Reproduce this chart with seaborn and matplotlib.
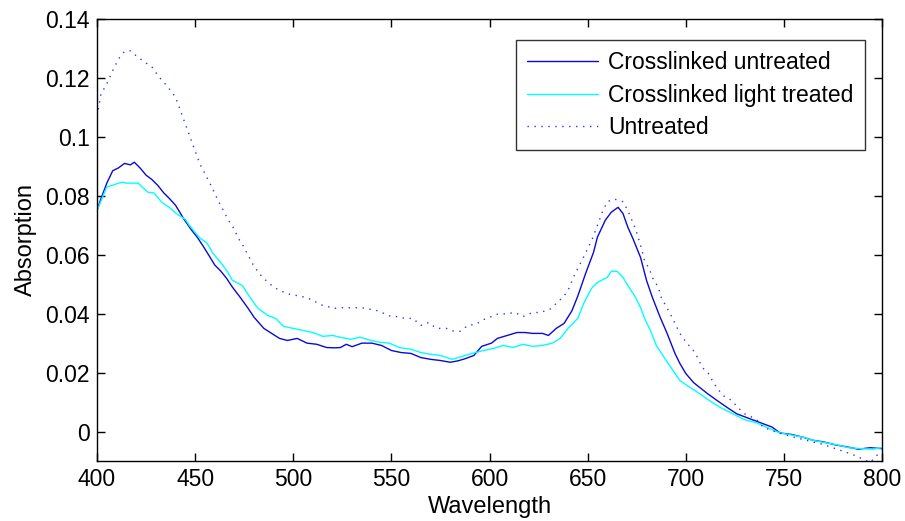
import matplotlib
matplotlib.use("Agg")
import matplotlib.pyplot as plt
import seaborn as sns

# Crosslinked untreated
wl_cross = [400, 402, 405, 408, 411, 414, 417, 419, 422, 425, 428, 431, 434, 437, 440,
            444, 448, 451, 454, 457, 460, 463, 466, 469, 473, 477, 480, 485, 489, 493,
            497, 502, 507, 512, 517, 521, 524, 527, 530, 535, 540, 545, 550, 555, 560,
            565, 570, 575, 580, 584, 588, 592, 596, 601, 604, 609, 614, 618, 622, 627,
            630, 634, 638, 642, 645, 649, 653, 655, 659, 662, 665.5, 668, 670.5, 673, 677,
            680, 683, 687, 690.5, 694.5, 697, 700, 704, 707, 711, 716, 721, 726, 732, 738,
            744, 748, 754, 760, 765, 770, 776, 782, 788, 794, 800]
abs_cross = [0.0751, 0.079, 0.0843, 0.0885, 0.0895, 0.091, 0.0905, 0.0914, 0.0894, 0.087,
             0.0855, 0.0835, 0.081, 0.079, 0.0768, 0.0724, 0.0685, 0.066, 0.063, 0.0598,
             0.0565, 0.0545, 0.052, 0.049, 0.0455, 0.0418, 0.0388, 0.035, 0.0333, 0.0316,
             0.0309, 0.0316, 0.030, 0.0296, 0.0285, 0.0284, 0.0285, 0.0296, 0.0288, 0.030,
             0.030, 0.0292, 0.0275, 0.0268, 0.0265, 0.0251, 0.0245, 0.0241, 0.0235, 0.024,
             0.0248, 0.0258, 0.0289, 0.030, 0.0316, 0.0326, 0.0336, 0.0336, 0.0333, 0.0333,
             0.0326, 0.035, 0.0367, 0.041, 0.046, 0.0537, 0.0608, 0.066, 0.0717, 0.0744,
             0.0761, 0.074, 0.0693, 0.0656, 0.059, 0.0513, 0.0455, 0.0387, 0.0333, 0.0265,
             0.0231, 0.0197, 0.0166, 0.015, 0.0129, 0.0105, 0.0082, 0.006, 0.0045, 0.003,
             0.0015, -0.0005, -0.001, -0.002, -0.003, -0.0035, -0.0045, -0.0052, -0.006,
             -0.0055, -0.0058]

# Crosslinked light treated
wl_light = [400, 402.5, 405, 408, 411, 413, 415, 421, 423, 426, 429, 433, 437, 441, 445,
            447, 450, 452.5, 456, 459, 463, 466, 469, 474, 478, 482, 487, 491, 495, 500,
            505, 510, 515, 520, 524, 529, 534, 539, 544, 549, 554, 560, 565, 570, 575,
            581, 586, 591, 597, 602, 607, 612, 617, 622, 627, 632, 636, 640, 645, 648,
            652, 655, 660, 662, 665, 668, 671, 674, 677, 679, 682, 685, 689, 693.5, 697,
            702, 707, 712, 717.5, 724, 730, 736, 742, 748, 754, 760, 765, 771, 777, 783,
            789, 795, 800]
abs_light = [0.075, 0.079, 0.083, 0.0836, 0.0843, 0.0846, 0.0843, 0.0843, 0.083, 0.0812,
             0.081, 0.0778, 0.076, 0.0737, 0.072, 0.070, 0.0676, 0.0656, 0.064, 0.0605,
             0.0574, 0.0547, 0.0513, 0.0496, 0.0455, 0.0418, 0.0394, 0.0384, 0.0357, 0.035,
             0.0343, 0.0336, 0.0323, 0.0326, 0.032, 0.0313, 0.032, 0.031, 0.0303, 0.030,
             0.0285, 0.0279, 0.0268, 0.0262, 0.0258, 0.0245, 0.0255, 0.0265, 0.0275, 0.0282,
             0.0292, 0.0285, 0.0296, 0.0289, 0.0292, 0.030, 0.0316, 0.035, 0.0384, 0.0435,
             0.0486, 0.0506, 0.0523, 0.0544, 0.0544, 0.0523, 0.049, 0.046, 0.042, 0.0384,
             0.0343, 0.0292, 0.0251, 0.0207, 0.0173, 0.015, 0.0129, 0.0105, 0.0082, 0.006,
             0.004, 0.003, 0.0012, -0.0005, -0.0012, -0.002, -0.003, -0.0038, -0.0045,
             -0.0055, -0.0058, -0.006, -0.0055]

# Untreated
wl_untr = [400, 402, 405, 408, 411, 414, 417, 420, 424, 428, 432, 436, 440, 443, 446,
           449, 452.5, 457.5, 462, 467, 470, 472, 474.5, 477, 479.5, 482.5, 486.5, 490, 494,
           498, 503, 506.5, 510, 514, 517, 521, 525, 530, 535, 539, 543, 550, 553, 557,
           561, 565, 569, 573, 578, 582, 585, 589, 593, 597, 601, 604, 609, 613, 617,
           622, 626, 631, 634.5, 638, 640.5, 642.5, 645, 647.5, 650, 652.5, 655, 657.5, 660,
           663.5, 668, 670.5, 674.5, 677.5, 679, 681.5, 683.5, 686, 687.5, 690, 692.5, 697,
           700.5, 703.5, 706, 708.5, 712, 714, 716.5, 719, 723.5, 726.5, 730, 734, 737, 739.5,
           746.5, 755.5, 770, 785, 794, 797.5, 800]
abs_untr = [0.107, 0.1145, 0.118, 0.1225, 0.1265, 0.129, 0.1292, 0.1275, 0.1255, 0.1237,
            0.120, 0.117, 0.1135, 0.108, 0.1025, 0.097, 0.0907, 0.0843, 0.078, 0.0717,
            0.0686, 0.0656, 0.063, 0.0598, 0.0567, 0.0537, 0.051, 0.049, 0.0476, 0.0466,
            0.046, 0.0455, 0.0445, 0.043, 0.0425, 0.0418, 0.042, 0.042, 0.042, 0.0415,
            0.041, 0.039, 0.039, 0.0384, 0.0384, 0.036, 0.037, 0.035, 0.035, 0.034,
            0.034, 0.036, 0.0364, 0.038, 0.039, 0.0398, 0.040, 0.0404, 0.039, 0.0404,
            0.0404, 0.0416, 0.0438, 0.046, 0.0486, 0.052, 0.0554, 0.0586, 0.062, 0.0656,
            0.070, 0.0745, 0.078, 0.0789, 0.078, 0.075, 0.0686, 0.062, 0.058, 0.055,
            0.0516, 0.049, 0.0455, 0.0425, 0.0394, 0.0333, 0.030, 0.0279, 0.0251, 0.0217,
            0.0194, 0.0166, 0.0143, 0.0122, 0.0105, 0.0082, 0.006, 0.0048, 0.0035, 0.0014,
            -0.0003, -0.002, -0.0044, -0.0078, -0.0105, -0.008, -0.0085]

x_ticks = [400, 450, 500, 550, 600, 650, 700, 750, 800]
y_ticks = [0, 0.02, 0.04, 0.06, 0.08, 0.1, 0.12, 0.14]
y_tick_labels = ["0", "0.02", "0.04", "0.06", "0.08", "0.1", "0.12", "0.14"]

sns.set_style("white")
plt.rcParams["font.family"] = ["Liberation Sans", "DejaVu Sans"]
plt.rcParams.update({
    "text.color": "black",
    "axes.labelcolor": "black",
    "xtick.color": "black",
    "ytick.color": "black",
    "xtick.direction": "in",
    "ytick.direction": "in",
    "xtick.bottom": True,
    "xtick.top": True,
    "ytick.left": True,
    "ytick.right": True,
    "xtick.major.size": 6,
    "ytick.major.size": 6,
    "xtick.major.width": 1.0,
    "ytick.major.width": 1.0,
})

fig = plt.figure(figsize=(9.05, 5.21), dpi=100)
ax = fig.add_axes([0.1072, 0.1152, 0.8674, 0.8483])

sns.lineplot(x=wl_cross, y=abs_cross, ax=ax, color="#0a0ad2", linewidth=1.0,
             estimator=None, sort=False, label="Crosslinked untreated")
sns.lineplot(x=wl_light, y=abs_light, ax=ax, color="#00ffff", linewidth=1.0,
             estimator=None, sort=False, label="Crosslinked light treated")
sns.lineplot(x=wl_untr, y=abs_untr, ax=ax, color="#3030ff", linewidth=1.0,
             estimator=None, sort=False, label="Untreated", dashes=False)
ax.lines[2].set_linestyle((0, (1, 4)))

ax.set_xlim(400, 800)
ax.set_ylim(-0.01, 0.14)
ax.set_xticks(x_ticks)
ax.set_yticks(y_ticks)
ax.set_yticklabels(y_tick_labels)
ax.tick_params(which="major", direction="in", length=6, width=1.0, bottom=True, left=True,
               top=True, right=True, labelsize=16.5, color="black", labelcolor="black", pad=5)
for s in ax.spines.values():
    s.set_visible(True)
    s.set_color("black")
    s.set_linewidth(1.0)

ax.set_xlabel("Wavelength", fontsize=17, labelpad=4)
ax.set_ylabel("Absorption", fontsize=17, labelpad=6)

leg = ax.legend(loc="upper right", bbox_to_anchor=(0.978, 0.9525), borderaxespad=0,
                fontsize=16.5, frameon=True, fancybox=False, handlelength=3.1,
                labelspacing=0.4, borderpad=0.5, handletextpad=0.42)
leg.get_frame().set_edgecolor("black")
leg.get_frame().set_linewidth(1.0)

plt.savefig("out.png", dpi=100)
